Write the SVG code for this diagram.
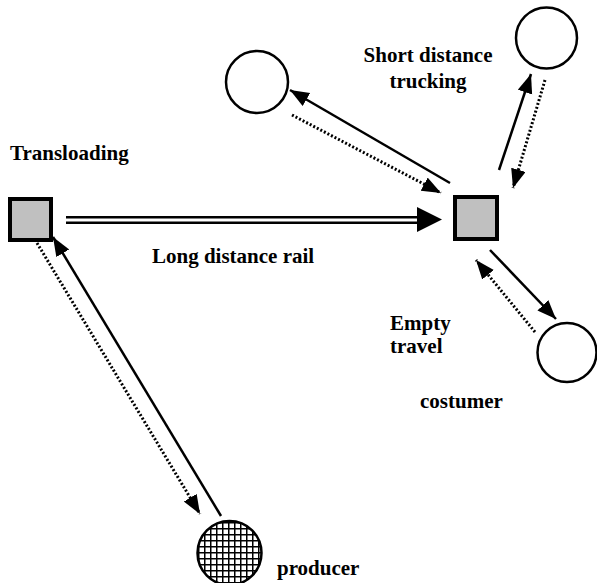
<svg xmlns="http://www.w3.org/2000/svg" width="597" height="583" viewBox="0 0 597 583">
<style>
.lbl{font-family:"Liberation Serif","Times New Roman",serif;font-weight:bold;font-size:21px;fill:#000}
.sq{fill:#c0c0c0;stroke:#000;stroke-width:4}
.circ{fill:#fff;stroke:#000;stroke-width:2.5}
.solid{stroke:#000;stroke-width:2.5;fill:none}
.dot{stroke:#000;stroke-width:3;stroke-dasharray:2 2;fill:none}
</style>
<defs>
<marker id="ah" markerUnits="userSpaceOnUse" markerWidth="20" markerHeight="16" refX="19" refY="7.5" orient="auto">
<path d="M0,0 L19,7.5 L0,15 z" fill="#000"/>
</marker>
<pattern id="grid" patternUnits="userSpaceOnUse" width="6" height="6">
<rect width="6" height="6" fill="#fff"/>
<path d="M0,0.75 H6 M0.75,0 V6" stroke="#000" stroke-width="1.5"/>
</pattern>
</defs>
<rect width="597" height="583" fill="#fff"/>
<g id="connectors">
<line x1="66" y1="217.3" x2="420" y2="217.3" stroke="#000" stroke-width="2.5"/>
<line x1="66" y1="222.7" x2="420" y2="222.7" stroke="#000" stroke-width="2.5"/>
<polygon points="417,207 442,219.5 417,232" fill="#000"/>
<line class="solid" x1="450" y1="183" x2="290" y2="90" marker-end="url(#ah)"/>
<line class="dot" x1="292" y1="115" x2="441" y2="193" marker-end="url(#ah)"/>
<line class="solid" x1="499" y1="170" x2="531" y2="74" marker-end="url(#ah)"/>
<line class="dot" x1="545" y1="80" x2="513" y2="188" marker-end="url(#ah)"/>
<line class="solid" x1="490" y1="250" x2="556" y2="319" marker-end="url(#ah)"/>
<line class="dot" x1="535" y1="332" x2="476" y2="260" marker-end="url(#ah)"/>
<line class="solid" x1="221" y1="516" x2="53" y2="237" marker-end="url(#ah)"/>
<line class="dot" x1="37" y1="243" x2="200" y2="514" marker-end="url(#ah)"/>
</g>
<g id="transloading">
<rect class="sq" x="10" y="199" width="41" height="41"/>
<text class="lbl" x="10" y="160">Transloading</text>
</g>
<g id="hub">
<rect class="sq" x="455" y="197" width="42" height="42"/>
</g>
<g id="customer-top-left">
<circle class="circ" cx="257" cy="82" r="31"/>
</g>
<g id="customer-top-right">
<circle class="circ" cx="546.5" cy="38" r="30.5"/>
</g>
<g id="customer-bottom-right">
<circle class="circ" cx="567" cy="352.5" r="29.5"/>
</g>
<g id="producer">
<circle cx="229.5" cy="553" r="32" fill="url(#grid)" stroke="#000" stroke-width="2.5"/>
<text class="lbl" x="277" y="575">producer</text>
</g>
<g id="labels">
<text class="lbl" x="152" y="263">Long distance rail</text>
<text class="lbl" x="428" y="62" text-anchor="middle">Short distance</text>
<text class="lbl" x="428" y="88" text-anchor="middle">trucking</text>
<text class="lbl" x="390" y="330">Empty</text>
<text class="lbl" x="390" y="353">travel</text>
<text class="lbl" x="420" y="408">costumer</text>
</g>
</svg>
